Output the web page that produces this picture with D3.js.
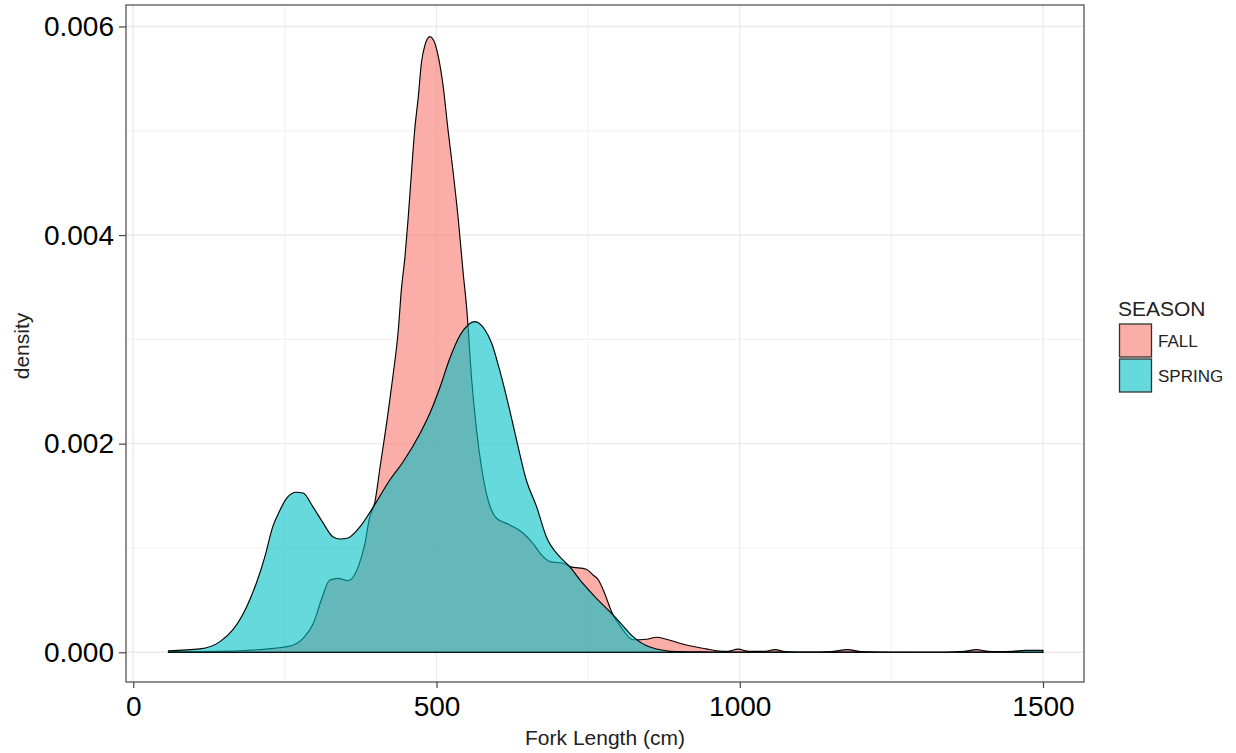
<!DOCTYPE html>
<html><head><meta charset="utf-8">
<script src="https://cdn.jsdelivr.net/npm/d3@7"></script>
<style>body{margin:0;background:#fff;} svg{display:block;font-family:"Liberation Sans",Arial,sans-serif;}</style>
</head><body>
<svg id="chart" width="1236" height="753"></svg>
<script>
const seasons = ["FALL", "SPRING"];
const seasonColors = ["#F8766D", "#00BFC4"];
const xTicks = [0, 500, 1000, 1500];
const xMinorTicks = [250, 750, 1250];
const yTicks = [0, 0.002, 0.004, 0.006];
const yMinorTicks = [0.001, 0.003, 0.005];

const fallX = [58,176,231,253,264,280,297,310,324,338,354,371,382,390,398,407,420,428,437,442,448,453,459,464,470,475,481,489,495,503,511,519,527,536,544,550,558,566,574,585,599,621,643,659,673,687,709,720,747,758,767,775,791,802,824,846,863,879,912,945,962,980,997,1015,1040,1058,1075,1110,1150,1178,1200,1250,1340,1370,1390,1410,1450,1500];
const fallY = [0.006,0.015,0.038,0.054,0.070,0.134,0.278,0.501,0.693,0.709,0.686,0.821,1.045,1.300,1.429,1.779,2.291,2.642,3.090,3.474,3.793,4.145,4.624,5.007,5.327,5.647,5.823,5.902,5.870,5.710,5.423,5.007,4.624,4.145,3.634,3.282,2.611,2.132,1.779,1.460,1.285,1.221,1.141,1.045,0.933,0.869,0.853,0.821,0.796,0.741,0.693,0.597,0.358,0.260,0.120,0.125,0.144,0.125,0.070,0.032,0.015,0.008,0.030,0.008,0.008,0.025,0.006,0.001,0.006,0.025,0.006,0.0005,0.0005,0.008,0.025,0.008,0.003,0.002].map(v => v / 1000);

const springX = [58,110,143,164,187,203,217,230,242,253,269,280,296,313,329,341,354,374,396,423,445,473,489,506,522,539,552,563,580,591,604,618,632,648,665,681,703,717,741,761,791,802,824,852,896,950,1000,1200,1400,1450,1470,1500];
const springY = [0.015,0.032,0.102,0.214,0.437,0.664,0.917,1.204,1.364,1.479,1.534,1.527,1.396,1.240,1.108,1.086,1.096,1.204,1.396,1.652,1.827,2.100,2.291,2.546,2.819,3.042,3.138,3.170,3.090,2.963,2.707,2.387,2.035,1.652,1.396,1.108,0.917,0.837,0.662,0.533,0.358,0.290,0.150,0.050,0.006,0.003,0.002,0.001,0.002,0.008,0.018,0.018].map(v => v / 1000);

const seriesX = [fallX, springX];
const seriesY = [fallY, springY];

const svg = d3.select("#chart");
const P = {left: 126, right: 1084, top: 5, bottom: 682};

const x = d3.scaleLinear().domain([-12, 1567.6]).range([P.left, P.right]);
const y = d3.scaleLinear().domain([-0.000285, 0.0062057]).range([P.bottom, P.top]);

// gridlines
const grid = svg.append("g");
xMinorTicks.forEach(t => grid.append("line").attr("x1", x(t)).attr("x2", x(t)).attr("y1", P.top).attr("y2", P.bottom).attr("stroke", "#f0f0f0").attr("stroke-width", 1));
yMinorTicks.forEach(t => grid.append("line").attr("y1", y(t)).attr("y2", y(t)).attr("x1", P.left).attr("x2", P.right).attr("stroke", "#f0f0f0").attr("stroke-width", 1));
xTicks.forEach(t => grid.append("line").attr("x1", x(t)).attr("x2", x(t)).attr("y1", P.top).attr("y2", P.bottom).attr("stroke", "#ebebeb").attr("stroke-width", 1.4));
yTicks.forEach(t => grid.append("line").attr("y1", y(t)).attr("y2", y(t)).attr("x1", P.left).attr("x2", P.right).attr("stroke", "#ebebeb").attr("stroke-width", 1.4));

// density areas
const area = d3.area().x(d => x(d[0])).y0(y(0)).y1(d => y(d[1])).curve(d3.curveMonotoneX);
seasons.forEach((s, i) => {
  const pts = seriesX[i].map((v, j) => [v, seriesY[i][j]]);
  const line = d3.line().x(d => x(d[0])).y(d => y(d[1])).curve(d3.curveMonotoneX);
  svg.append("path").attr("d", area(pts)).attr("fill", seasonColors[i]).attr("fill-opacity", 0.6).attr("stroke", "none");
  const first = pts[0], last = pts[pts.length - 1];
  const outline = "M" + x(first[0]) + "," + y(0) + "L" + line(pts).slice(1) + "L" + x(last[0]) + "," + y(0) + "Z";
  svg.append("path").attr("d", outline).attr("fill", "none").attr("stroke", "#000").attr("stroke-width", 1.15).attr("stroke-linejoin", "round");
});

// panel border
svg.append("rect").attr("x", P.left).attr("y", P.top).attr("width", P.right - P.left).attr("height", P.bottom - P.top)
  .attr("fill", "none").attr("stroke", "#555").attr("stroke-width", 1.3);

// axes
const xAxis = svg.append("g").attr("transform", `translate(0,${P.bottom})`)
  .call(d3.axisBottom(x).tickValues(xTicks).tickSize(6).tickPadding(8).tickFormat(d3.format("d")));
const yAxis = svg.append("g").attr("transform", `translate(${P.left},0)`)
  .call(d3.axisLeft(y).tickValues(yTicks).tickSize(7).tickPadding(5).tickFormat(d3.format(".3f")));
[xAxis, yAxis].forEach(a => {
  a.select(".domain").remove();
  a.selectAll(".tick line").attr("stroke", "#444").attr("stroke-width", 1.2);
  a.selectAll(".tick text").attr("fill", "#000").style("font-size", "28px").style("font-family", "'Liberation Sans',Arial,sans-serif");
});

// axis titles
svg.append("text").attr("x", 605).attr("y", 745).attr("text-anchor", "middle")
  .style("font-size", "21px").attr("fill", "#222").text("Fork Length (cm)");
svg.append("text").attr("transform", "translate(29,346) rotate(-90)").attr("text-anchor", "middle")
  .style("font-size", "21px").attr("fill", "#222").text("density");

// legend
const lg = svg.append("g");
lg.append("text").attr("x", 1118).attr("y", 316).style("font-size", "21px").attr("fill", "#222").text("SEASON");
seasons.forEach((s, i) => {
  const yy = 324 + i * 35;
  lg.append("rect").attr("x", 1119.5).attr("y", yy).attr("width", 32).attr("height", 33)
    .attr("fill", seasonColors[i]).attr("fill-opacity", 0.6).attr("stroke", "#333").attr("stroke-width", 1.3);
  lg.append("text").attr("x", 1158).attr("y", yy + 17).attr("dominant-baseline", "central")
    .style("font-size", "17px").attr("fill", "#222").text(s);
});
</script>
</body></html>
